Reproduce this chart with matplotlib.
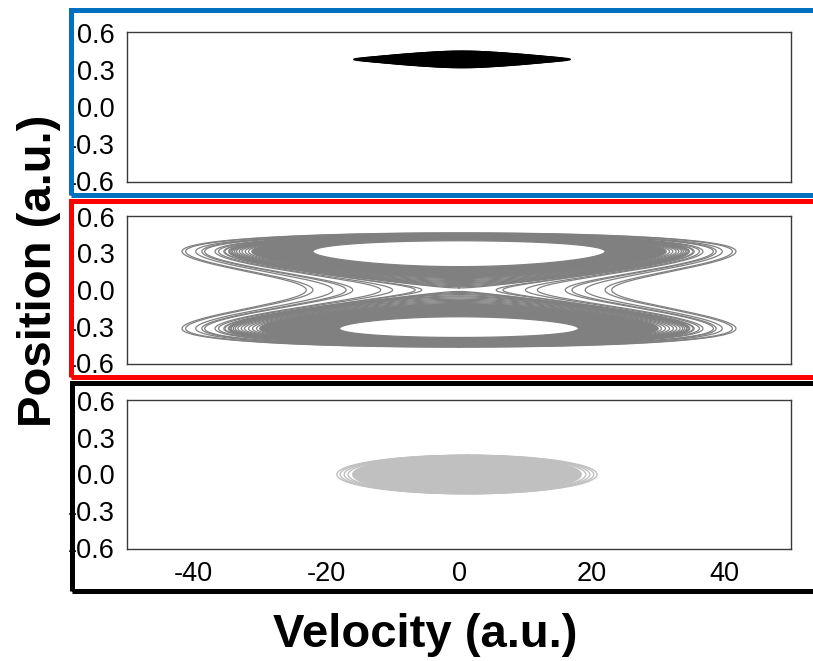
import numpy as np
import matplotlib
matplotlib.use("Agg")
import matplotlib.pyplot as plt
from matplotlib.patches import Rectangle, PathPatch
from matplotlib.path import Path

plt.rcParams['font.family'] = ['Liberation Sans', 'DejaVu Sans']
plt.rcParams['axes.unicode_minus'] = False

# Shared axes
x_ticks = [-40, -20, 0, 20, 40]
y_ticks = [-0.6, -0.3, 0.0, 0.3, 0.6]
x_limits = (-50, 50)
y_limits = (-0.605, 0.605)
x_label = "Velocity (a.u.)"
y_label = "Position (a.u.)"

# Panel 1: trapped orbit in one well (loop velocity / position amplitudes)
p1_center_vel = 0.45
p1_center_pos = 0.384
p1_vel_amp = [16.3, 15.6, 14.6, 13.4, 12.0, 10.2, 8.0]
p1_pos_amp = [0.030, 0.039, 0.047, 0.055, 0.061, 0.065, 0.067]

# Panel 2: double-well orbit, loops labelled by their speed at the well bottom
p2_well_pos = 0.315
p2_separatrix_speed = 34.8
p2_upper_band = (22.0, 31.2)
p2_lower_band = (18.0, 30.0)
p2_upper_loops = [31.7, 32.2, 32.7, 33.1, 33.5, 33.8, 34.1, 34.35, 34.55, 34.7]
p2_lower_loops = [30.5, 31.1, 31.7, 32.3, 32.8, 33.3, 33.7, 34.0, 34.3, 34.5, 34.65, 34.75]
# cross-well loops, labelled by their speed when passing position 0
p2_cross_waists = [5.6, 6.6, 10.0, 11.8, 16.0, 17.0, 19.0, 22.0, 23.0]

# Panel 3: monostable orbit around position 0
p3_center_vel = 1.2
p3_center_pos = 0.0
p3_core = (17.2, 0.152)
p3_vel_amp = [19.6, 19.1, 18.5, 17.9]
p3_pos_amp = [0.157, 0.156, 0.155, 0.154]

colors = {"p1": "#000000", "p2": "#808080", "p3": "#C0C0C0"}
frame_colors = ["#0070C0", "#FF0000", "#000000"]

W, H = 813, 661
fig = plt.figure(figsize=(W / 100, H / 100), dpi=100)


def px_axes(top, bottom, left=127, right=791):
    return fig.add_axes([left / W, 1 - bottom / H, (right - left) / W, (bottom - top) / H])


ax1 = px_axes(32, 182)
ax2 = px_axes(216, 364)
ax3 = px_axes(400, 549)

for ax in (ax1, ax2, ax3):
    ax.set_xlim(*x_limits)
    ax.set_ylim(*y_limits)
    ax.set_xticks(x_ticks)
    ax.set_yticks(y_ticks)
    ax.set_yticklabels([f"{t:.1f}" for t in y_ticks])
    ax.set_xticklabels([str(t) for t in x_ticks])
    ax.tick_params(length=0, pad=8.6, labelsize=19.5, colors="black")
    for s in ax.spines.values():
        s.set_color("#3a3a3a")
        s.set_linewidth(1.0)
for ax in (ax1, ax2):
    ax.tick_params(labelbottom=False)

theta = np.linspace(0, 2 * np.pi, 400)

# Panel 1
for va, pa in zip(p1_vel_amp, p1_pos_amp):
    ax1.fill(p1_center_vel + va * np.sin(theta), p1_center_pos + pa * np.cos(theta),
             color=colors["p1"], lw=1.0)

# Panel 2: contours of a symmetric double-well
D = p2_separatrix_speed ** 2 / 2
x0 = p2_well_pos


def potential(x):
    u = x / x0
    return 4 * D * (-u ** 2 / 2 + u ** 4 / 4)


def loop(E, sign=1, n=700):
    r = np.sqrt(1 + E / D)
    u_out = np.sqrt(1 + r)
    if E < 0:
        u_in = np.sqrt(max(1 - r, 0))
        lo, hi = u_in * x0, u_out * x0
        if sign < 0:
            lo, hi = -hi, -lo
    else:
        lo, hi = -u_out * x0, u_out * x0
    th = np.linspace(0, np.pi, n)
    x = lo + (hi - lo) * (1 - np.cos(th)) / 2
    v = np.sqrt(np.clip(2 * (E - potential(x)), 0, None))
    return np.concatenate([v, -v[::-1]]), np.concatenate([x, x[::-1]])


def well_energy(speed):
    return speed ** 2 / 2 - D


def band(ax, speeds, sign, color):
    vo, xo = loop(well_energy(speeds[1]), sign)
    vi, xi = loop(well_energy(speeds[0]), sign)
    outer = Path(np.column_stack([vo, xo]), closed=False)
    inner = Path(np.column_stack([vi[::-1], xi[::-1]]), closed=False)
    path = Path.make_compound_path(outer, inner)
    ax.add_patch(PathPatch(path, facecolor=color, edgecolor=color, lw=0.9))


band(ax2, p2_upper_band, 1, colors["p2"])
band(ax2, p2_lower_band, -1, colors["p2"])
for s in p2_upper_loops:
    v, x = loop(well_energy(s), 1)
    ax2.plot(v, x, color=colors["p2"], lw=0.9)
for s in p2_lower_loops:
    v, x = loop(well_energy(s), -1)
    ax2.plot(v, x, color=colors["p2"], lw=0.9)
for w in p2_cross_waists:
    v, x = loop(w ** 2 / 2)
    ax2.plot(v, x, color=colors["p2"], lw=0.9)

# Panel 3
ax3.fill(p3_center_vel + p3_core[0] * np.sin(theta), p3_center_pos + p3_core[1] * np.cos(theta),
         color=colors["p3"], lw=1.0)
for va, pa in zip(p3_vel_amp, p3_pos_amp):
    ax3.plot(p3_center_vel + va * np.sin(theta), p3_center_pos + pa * np.cos(theta),
             color=colors["p3"], lw=1.0)

# Coloured frames around the panels
frames = [(70.5, 10.5, 194.5), (70.5, 200.5, 376.5), (71.5, 382.5, 591.0)]
for (x_left, top, bottom), c in zip(frames, frame_colors):
    fig.patches.append(Rectangle((x_left / W, 1 - bottom / H), (840 - x_left) / W, (bottom - top) / H,
                                 transform=fig.transFigure, fill=False, edgecolor=c,
                                 lw=3.6, zorder=5, clip_on=False))

fig.text(39 / W, 1 - 271 / H, y_label, rotation=90, ha="center", va="center",
         fontsize=34, fontweight="bold")
fig.text(425 / W, 1 - 635 / H, x_label, ha="center", va="center",
         fontsize=34, fontweight="bold")

fig.savefig("out.png", dpi=100)
